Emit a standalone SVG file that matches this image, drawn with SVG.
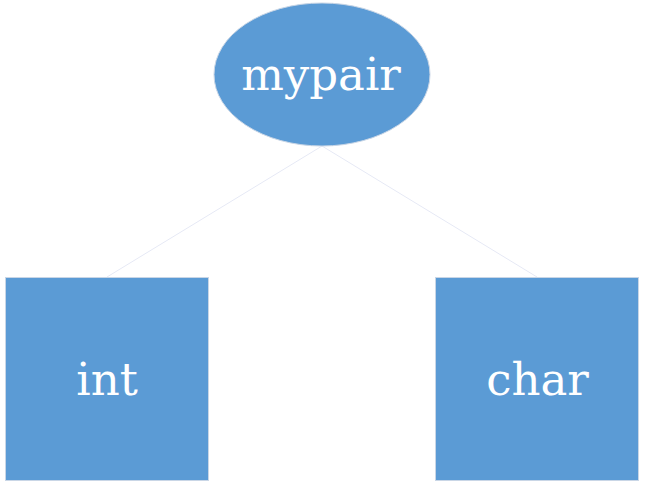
<svg xmlns="http://www.w3.org/2000/svg" width="645" height="489" viewBox="0 0 645 489">
<style>
.node{fill:#5b9bd5;stroke:#c9d6e6;stroke-width:1}
.lbl{fill:#ffffff;font-family:"DejaVu Serif","Liberation Serif",serif;font-size:45px;text-anchor:middle}
.conn{stroke:#e6e9f5;stroke-width:1;fill:none}
</style>
<rect width="645" height="489" fill="#ffffff"/>
<g id="connectors">
<line class="conn" x1="322" y1="146" x2="107" y2="277"/>
<line class="conn" x1="322" y1="146" x2="537" y2="277"/>
</g>
<g id="mypair">
<ellipse class="node" cx="322" cy="74.5" rx="108" ry="71.5"/>
<text class="lbl" x="321" y="90">mypair</text>
</g>
<g id="int">
<rect class="node" x="5.5" y="277.5" width="203" height="203"/>
<text class="lbl" x="107" y="395">int</text>
</g>
<g id="char">
<rect class="node" x="435.5" y="277.5" width="203" height="203"/>
<text class="lbl" x="537.5" y="395">char</text>
</g>
</svg>
